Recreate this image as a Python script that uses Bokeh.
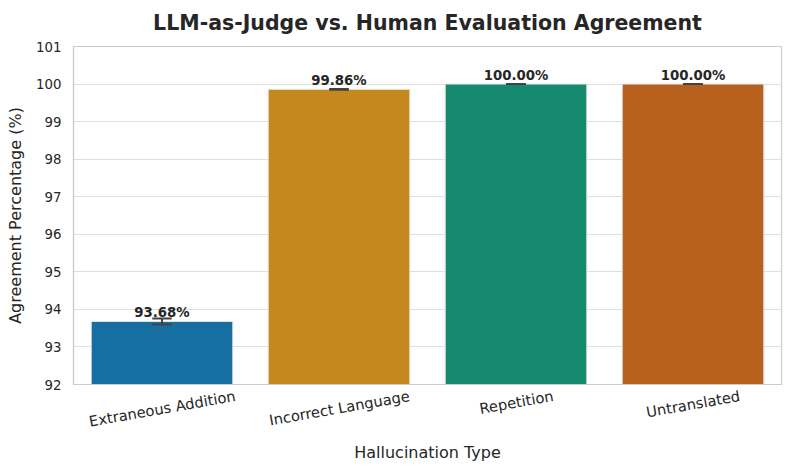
import math
from bokeh.plotting import figure
from bokeh.models import ColumnDataSource, Range1d, FixedTicker, Title
from bokeh.core.properties import value
from bokeh.embed import file_html
from bokeh.resources import INLINE

categories = ["Extraneous Addition", "Incorrect Language", "Repetition", "Untranslated"]
agreement = [93.68, 99.86, 100.00, 100.00]
errors = [0.08, 0.01, 0.0, 0.0]
colors = ["#166fa0", "#c4881e", "#158a6e", "#b8611e"]
y_ticks = [92, 93, 94, 95, 96, 97, 98, 99, 100, 101]

FONT = "DejaVu Sans"
W, H = 789, 465
BL, BR, BT, BB = 73, 8, 46, 78
XFONT_PX = 14.7
ROT = 10 * math.pi / 180
BAR_W = 0.8
CAP = 0.055

n = len(categories)
p = figure(x_range=Range1d(0, n), y_range=Range1d(92, 101), width=W, height=H,
           output_backend="svg", toolbar_location=None,
           min_border_left=BL, min_border_right=BR, min_border_top=BT, min_border_bottom=BB)

p.title = Title(text="LLM-as-Judge vs. Human Evaluation Agreement", align="center",
                vertical_align="top",
                text_font=FONT, text_font_size="20.5px", text_font_style="bold",
                text_color="#262626", offset=0, standoff=20)

# each category sits in the middle of its unit slot (same as a categorical range)
xc = [i + 0.5 for i in range(n)]
labels = [f"{v:.2f}%" for v in agreement]
src = ColumnDataSource(dict(x=xc, val=agreement, color=colors, label=labels,
                            lo=[v - e for v, e in zip(agreement, errors)],
                            hi=[v + e for v, e in zip(agreement, errors)],
                            xl=[x - CAP for x in xc], xr=[x + CAP for x in xc]))

p.vbar(x="x", top="val", bottom=92, width=BAR_W, fill_color="color",
       line_color="#e6e6e6", line_width=1, source=src)

p.text(x="x", y="val", text="label", text_align="center", text_baseline="bottom",
       y_offset=-1,
       text_font=value(FONT), text_font_size="13.3px", text_font_style="bold",
       text_color="#262626", source=src)

p.segment(x0="x", y0="lo", x1="x", y1="hi", line_color="#424242", line_width=2, source=src)
p.segment(x0="xl", y0="lo", x1="xr", y1="lo", line_color="#424242", line_width=2, source=src)
p.segment(x0="xl", y0="hi", x1="xr", y1="hi", line_color="#424242", line_width=2, source=src)

# --- x axis: category names rotated 10 degrees and centred under each bar. -----------
# Bokeh right-aligns rotated tick labels at the tick, so each tick is moved right by
# half the (rotated) width of its label.
ADV = {" ": .318, "A": .684, "E": .632, "I": .295, "L": .557, "R": .695, "U": .732,
       "a": .613, "c": .550, "d": .635, "e": .615, "g": .635, "i": .278, "l": .278,
       "n": .634, "o": .612, "p": .635, "r": .411, "s": .521, "t": .392, "u": .634,
       "x": .592}
px_per_unit = (W - BL - BR) / n
ticks, overrides = [], {}
for x, cat in zip(xc, categories):
    w = sum(ADV.get(ch, 0.6) for ch in cat) * XFONT_PX
    t = round(x + (w / 2) * math.cos(ROT) / px_per_unit, 4)
    ticks.append(t)
    overrides[t] = cat

p.xaxis.ticker = FixedTicker(ticks=ticks)
p.xaxis.major_label_overrides = overrides
p.xaxis.major_label_orientation = ROT
p.xaxis.axis_label = "Hallucination Type"
p.yaxis.ticker = FixedTicker(ticks=y_ticks)
p.yaxis.axis_label = "Agreement Percentage (%)"
for ax in (p.xaxis[0], p.yaxis[0]):
    ax.axis_label_text_font = FONT
    ax.axis_label_text_font_size = "16px"
    ax.axis_label_text_font_style = "normal"
    ax.axis_label_text_color = "#262626"
    ax.major_label_text_font = FONT
    ax.major_label_text_font_size = "13.3px"
    ax.major_label_text_color = "#262626"
    ax.major_tick_line_color = None
    ax.minor_tick_line_color = None
    ax.axis_line_color = "#cccccc"
    ax.axis_line_width = 1.2
p.xaxis.major_label_text_font_size = f"{XFONT_PX}px"
p.xaxis.major_label_standoff = 5
p.xaxis.axis_label_standoff = 2
p.yaxis.major_label_standoff = 6
p.yaxis.axis_label_standoff = 8

p.xgrid.grid_line_color = None
p.ygrid.grid_line_color = "#dedede"
p.ygrid.grid_line_width = 1
p.outline_line_color = "#cccccc"
p.outline_line_width = 1.2
p.background_fill_color = "white"
p.border_fill_color = "white"

open("out.html", "w").write(file_html(p, INLINE))
